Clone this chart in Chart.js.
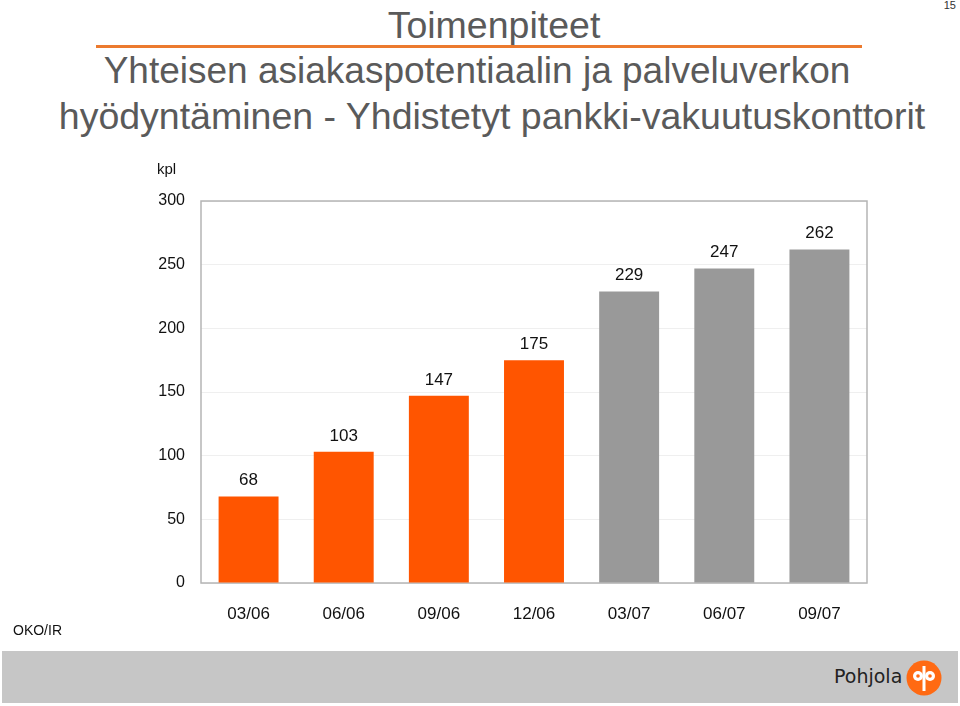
<!DOCTYPE html>
<html>
<head>
<meta charset="utf-8">
<script src="https://cdn.jsdelivr.net/npm/chart.js@4"></script>
<style>
  body { margin: 0; width: 960px; height: 706px; background: #fff; font-family: "Liberation Sans", Arial, sans-serif; overflow: hidden; position: relative; }
  .abs { position: absolute; white-space: nowrap; }
  #pageNo { right: 4px; top: -1px; font-size: 11px; color: #333; }
  .head { font-size: 37.5px; color: #5a5a5a; text-align: center; }
  #title { left: 294px; width: 400px; top: 4px; }
  #rule { left: 96px; width: 766px; top: 45px; height: 3px; background: #ec7a2e; }
  #sub1 { left: 77px; width: 800px; top: 50px; font-size: 37px; }
  #sub2 { left: 42px; width: 900px; top: 95px; }
  #unit { left: 157px; top: 160px; font-size: 15px; color: #111; }
  #src { left: 13px; top: 622px; font-size: 14px; color: #111; }
  #band { left: 2px; top: 651px; width: 956px; height: 52px; background: #c6c6c6; }
  #brand { left: 834px; top: 665px; font-size: 19px; color: #222; font-family: "DejaVu Sans", sans-serif; }
  #logo { left: 906px; top: 660px; }
  #wrap { left: 0; top: 0; width: 960px; height: 706px; }
</style>
</head>
<body>
<div class="abs" id="pageNo">15</div>
<div class="abs head" id="title">Toimenpiteet</div>
<div class="abs" id="rule"></div>
<div class="abs head" id="sub1">Yhteisen asiakaspotentiaalin ja palveluverkon</div>
<div class="abs head" id="sub2">hyödyntäminen - Yhdistetyt pankki-vakuutuskonttorit</div>
<div class="abs" id="band"></div>
<div class="abs" id="brand">Pohjola</div>
<svg class="abs" id="logo" width="36" height="36" viewBox="0 0 36 36">
  <circle cx="18" cy="18" r="17.5" fill="#ff6a13"/>
  <circle cx="12" cy="16" r="5" fill="#fff"/>
  <circle cx="24" cy="16" r="5" fill="#fff"/>
  <rect x="16.5" y="6" width="3" height="25" fill="#fff"/>
  <circle cx="12" cy="16" r="1.8" fill="#ff6a13"/>
  <circle cx="24" cy="16" r="1.8" fill="#ff6a13"/>
</svg>
<div class="abs" id="wrap"><canvas id="chart"></canvas></div>
<div class="abs" id="unit">kpl</div>
<div class="abs" id="src">OKO/IR</div>

<script>
// chart data
const quarters = ['03/06', '06/06', '09/06', '12/06', '03/07', '06/07', '09/07'];
const officeCounts = [68, 103, 147, 175, 229, 247, 262];
const barColors = ['#ff5500', '#ff5500', '#ff5500', '#ff5500', '#999999', '#999999', '#999999'];
const yTicks = [0, 50, 100, 150, 200, 250, 300];

// value labels above each bar
const valueLabels = {
    id: 'valueLabels',
    afterDatasetsDraw(chart) {
        const ctx = chart.ctx;
        const meta = chart.getDatasetMeta(0);
        ctx.save();
        ctx.font = '17px "Liberation Sans", Arial, sans-serif';
        ctx.fillStyle = '#111';
        ctx.textAlign = 'center';
        ctx.textBaseline = 'middle';
        meta.data.forEach((bar, i) => {
            ctx.fillText(String(officeCounts[i]), bar.x, bar.y - 16);
        });
        ctx.restore();
    }
};

// plot box border
const plotBox = {
    id: 'plotBox',
    beforeDatasetsDraw(chart) {
        const a = chart.chartArea;
        const ctx = chart.ctx;
        ctx.save();
        ctx.strokeStyle = '#b5b5b5';
        ctx.lineWidth = 1.5;
        ctx.strokeRect(a.left, a.top, a.right - a.left, a.bottom - a.top);
        ctx.restore();
    }
};

try {
    const canvas = document.getElementById('chart');
    new Chart(canvas.getContext('2d'), {
        type: 'bar',
        data: {
            labels: quarters,
            datasets: [{
                data: officeCounts,
                backgroundColor: barColors,
                borderWidth: 0,
                barPercentage: 0.63,
                categoryPercentage: 1
            }]
        },
        options: {
            responsive: true,
            maintainAspectRatio: false,
            animation: false,
            layout: { padding: { left: 141, right: 93, top: 201, bottom: 63 } },
            plugins: { legend: { display: false }, tooltip: { enabled: false } },
            scales: {
                y: {
                    min: 0, max: 300,
                    afterBuildTicks: s => { s.ticks = yTicks.map(v => ({ value: v })); },
                    afterFit: s => { s.width = 60; },
                    border: { display: false },
                    grid: { color: '#efefef', drawTicks: false, lineWidth: 1 },
                    ticks: { color: '#111', padding: 16, font: { size: 16, family: '"Liberation Sans", Arial, sans-serif' } }
                },
                x: {
                    afterFit: s => { s.height = 60; },
                    border: { display: false },
                    grid: { display: false },
                    ticks: { color: '#111', padding: 13, font: { size: 17, family: '"Liberation Sans", Arial, sans-serif' } }
                }
            }
        },
        plugins: [plotBox, valueLabels]
    });
} catch (e) { console.warn('Chart init failed', e); }
</script>
</body>
</html>
